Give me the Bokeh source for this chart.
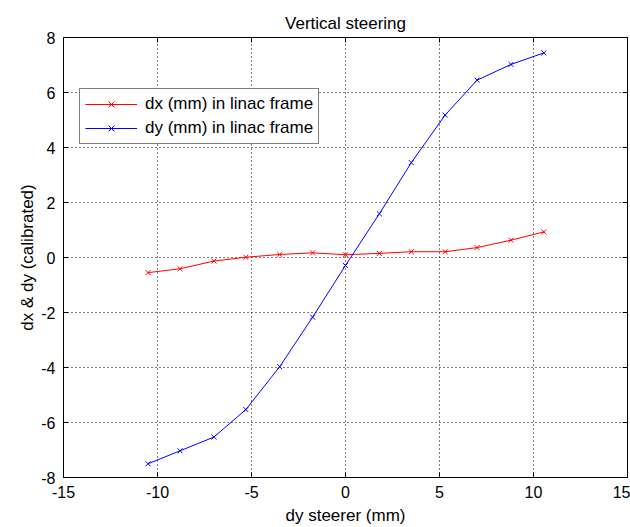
from bokeh.plotting import figure
from bokeh.models import Range1d, LinearAxis, FixedTicker, Legend, LegendItem
from bokeh.embed import file_html
from bokeh.resources import INLINE

steerer = [-10.5, -8.8, -7.0, -5.3, -3.5, -1.75, 0.0, 1.8, 3.5, 5.3, 7.0, 8.8, 10.55]
dx_mm = [-0.55, -0.41, -0.13, 0.01, 0.11, 0.17, 0.10, 0.15, 0.21, 0.21, 0.36, 0.63, 0.93]
dy_mm = [-7.50, -7.03, -6.53, -5.53, -3.97, -2.17, -0.29, 1.59, 3.45, 5.18, 6.45, 7.02, 7.44]
x_ticks = [-15, -10, -5, 0, 5, 10, 15]
y_ticks = [-8, -6, -4, -2, 0, 2, 4, 6, 8]

FONT = "Liberation Sans"
FS = "17px"
TFS = "16px"

p = figure(width=630, height=527, output_backend="svg", toolbar_location=None,
           x_range=Range1d(-15, 15), y_range=Range1d(-8, 8),
           min_border_left=63, min_border_right=3, min_border_top=37, min_border_bottom=48,
           title="Vertical steering")
p.title.align = "center"
p.title.text_font = FONT
p.title.text_font_size = FS
p.title.text_font_style = "normal"
p.title.text_color = "black"

p.outline_line_color = "black"
p.outline_line_width = 1
p.background_fill_color = "white"
p.border_fill_color = "white"

for ax, tk in ((p.xaxis[0], x_ticks), (p.yaxis[0], y_ticks)):
    ax.ticker = FixedTicker(ticks=tk)
    ax.major_label_overrides = {t: str(t) for t in tk}
    ax.major_tick_in = 5
    ax.major_tick_out = 0
    ax.minor_tick_in = 0
    ax.minor_tick_out = 0
    ax.axis_line_color = "black"
    ax.major_tick_line_color = "black"
    ax.major_label_text_font = FONT
    ax.major_label_text_font_size = TFS
    ax.major_label_text_color = "black"
    ax.axis_label_text_font = FONT
    ax.axis_label_text_font_size = FS
    ax.axis_label_text_font_style = "normal"
    ax.axis_label_text_color = "black"

p.xaxis[0].axis_label = "dy steerer (mm)"
p.yaxis[0].axis_label = "dx & dy (calibrated)"
p.xaxis[0].major_label_standoff = 8
p.yaxis[0].major_label_standoff = 8
p.xaxis[0].axis_label_standoff = 5
p.yaxis[0].axis_label_standoff = 1

for loc, tk in (("above", x_ticks), ("right", y_ticks)):
    a = LinearAxis(ticker=FixedTicker(ticks=tk), major_tick_in=5, major_tick_out=0,
                   minor_tick_in=0, minor_tick_out=0,
                   major_label_overrides={t: "" for t in tk},
                   major_label_standoff=0, axis_line_color="black",
                   major_tick_line_color="black")
    p.add_layout(a, loc)

p.xgrid.ticker = FixedTicker(ticks=x_ticks)
p.ygrid.ticker = FixedTicker(ticks=y_ticks)
for g in (p.xgrid[0], p.ygrid[0]):
    g.grid_line_color = "black"
    g.grid_line_dash = "1 3"
    g.grid_line_width = 1
    g.grid_line_alpha = 1.0

r1 = p.line(steerer, dx_mm, line_color="red", line_width=1)
m1 = p.scatter(steerer, dx_mm, marker="x", size=7, line_color="red", line_width=1)
r2 = p.line(steerer, dy_mm, line_color="blue", line_width=1)
m2 = p.scatter(steerer, dy_mm, marker="x", size=7, line_color="blue", line_width=1)

legend = Legend(items=[LegendItem(label="dx (mm) in linac frame", renderers=[r1, m1]),
                       LegendItem(label="dy (mm) in linac frame", renderers=[r2, m2])],
                location=(16, 333))
legend.border_line_color = "black"
legend.border_line_width = 1
legend.label_text_font = FONT
legend.label_text_font_size = FS
legend.label_text_color = "black"
legend.glyph_width = 52
legend.glyph_height = 20
legend.label_height = 20
legend.padding = 5
legend.spacing = 4
legend.margin = 0
legend.label_standoff = 8
legend.background_fill_alpha = 1.0
p.add_layout(legend, "center")

open("out.html", "w").write(file_html(p, INLINE))
